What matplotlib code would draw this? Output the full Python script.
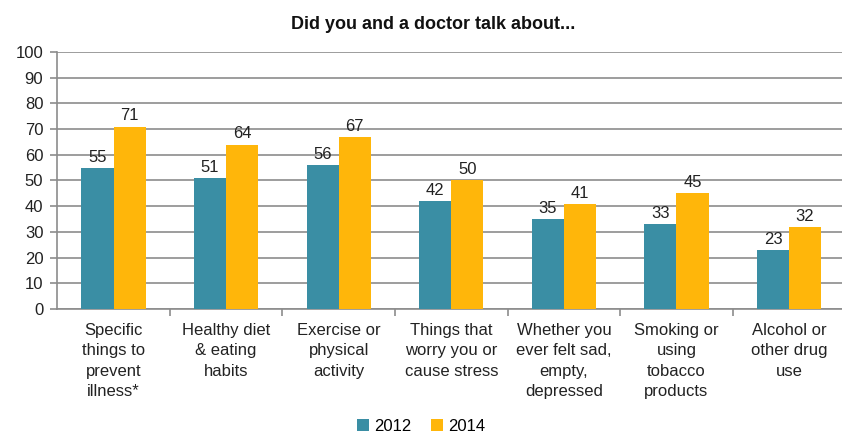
# Did you and a doctor talk about... : 2012 vs 2014 grouped bar chart

import numpy as np
import matplotlib
matplotlib.use("Agg")
import matplotlib.pyplot as plt

plt.rcParams['font.family'] = ['Liberation Sans', 'DejaVu Sans']

# data
categories = [
    "Specific\nthings to\nprevent\nillness*",
    "Healthy diet\n& eating\nhabits",
    "Exercise or\nphysical\nactivity",
    "Things that\nworry you or\ncause stress",
    "Whether you\never felt sad,\nempty,\ndepressed",
    "Smoking or\nusing\ntobacco\nproducts",
    "Alcohol or\nother drug\nuse",
]
vals_2012 = [55, 51, 56, 42, 35, 33, 23]
vals_2014 = [71, 64, 67, 50, 41, 45, 32]
years = ["2012", "2014"]

teal = '#3A8EA4'
orange = '#FFB60A'
grid_col = '#8C8C8C'

fig = plt.figure(figsize=(8.42, 4.37), dpi=100)
ax = fig.add_axes([0.068, 0.293, 0.936, 0.588])

x = np.arange(len(categories))
w = 0.285
b1 = ax.bar(x - w / 2, vals_2012, w, color=teal, label=years[0], zorder=3)
b2 = ax.bar(x + w / 2, vals_2014, w, color=orange, label=years[1], zorder=3)

# value labels above bars
for bars in (b1, b2):
    for r in bars:
        ax.text(r.get_x() + r.get_width() / 2, r.get_height() + 1.2,
                f"{r.get_height():.0f}", ha='center', va='bottom',
                fontsize=12, color='#222222')

ax.set_xlim(-0.5, len(categories) - 0.5)
ax.set_ylim(0, 100)
ax.set_yticks(range(0, 101, 10))
ax.yaxis.grid(True, color=grid_col, linewidth=1.2, zorder=0)
ax.tick_params(axis='y', labelsize=12, length=5, color=grid_col, width=1.2,
               pad=5, labelcolor='#222222')

# category labels centred, tick marks between categories
ax.set_xticks(x)
ax.set_xticklabels(categories, fontsize=12, linespacing=1.45, color='#222222')
ax.tick_params(axis='x', which='major', length=0, pad=10)
ax.set_xticks(np.arange(len(categories)) + 0.5, minor=True)
ax.tick_params(axis='x', which='minor', length=5, color=grid_col, width=1.2)

for s in ['top', 'right']:
    ax.spines[s].set_visible(False)
for s in ['left', 'bottom']:
    ax.spines[s].set_color(grid_col)
    ax.spines[s].set_linewidth(1.2)

fig.text(0.515, 0.945, "Did you and a doctor talk about...", ha='center',
         va='center', fontsize=13, fontweight='bold', color='#111111')

fig.legend(handles=[b1, b2], labels=years, loc='center',
           bbox_to_anchor=(0.5, 0.025), ncol=2, frameon=False,
           fontsize=12, handlelength=0.7, handleheight=0.7,
           handletextpad=0.3, columnspacing=1.2)

fig.savefig("out.png", dpi=100)
